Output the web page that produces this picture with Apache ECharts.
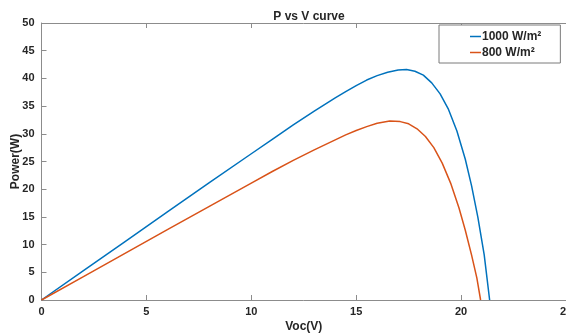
<!DOCTYPE html>
<html>
<head>
<meta charset="utf-8">
<script src="https://cdn.jsdelivr.net/npm/echarts@6/dist/echarts.min.js"></script>
<style>html,body{margin:0;padding:0;background:#fff}#c{width:566px;height:335px}</style>
</head>
<body>
<div id="c"></div>
<script>
var titleText = 'P vs V curve';
var xName = 'Voc(V)';
var yName = 'Power(W)';
var seriesNames = ['1000 W/m²', '800 W/m²'];
var xTicks = [0, 5, 10, 15, 20, 25];
var yTicks = [0, 5, 10, 15, 20, 25, 30, 35, 40, 45, 50];

var v1000 = [0, 2, 4, 6, 8, 10, 11, 12, 13, 14, 14.5, 15, 15.5, 16, 16.5, 17, 17.4, 17.8, 18.2, 18.6, 19, 19.4, 19.8, 20.2, 20.5, 20.8, 21.1, 21.36];
var p1000 = [0, 5.3, 10.6, 15.9, 21.2, 26.4, 29.0, 31.6, 34.1, 36.5, 37.6, 38.7, 39.7, 40.5, 41.1, 41.5, 41.6, 41.3, 40.6, 39.2, 37.2, 34.4, 30.5, 25.4, 20.6, 14.9, 8.2, 0];

var v800 = [0, 2, 4, 6, 8, 10, 11, 12, 13, 14, 14.5, 15, 15.5, 16, 16.6, 17.1, 17.5, 17.9, 18.3, 18.7, 19.1, 19.5, 19.9, 20.2, 20.5, 20.75, 20.93];
var p800 = [0, 4.22, 8.45, 12.7, 16.9, 21.1, 23.2, 25.2, 27.1, 28.9, 29.8, 30.6, 31.3, 31.9, 32.3, 32.2, 31.8, 30.9, 29.5, 27.5, 24.7, 21.1, 16.6, 12.6, 8.1, 4.0, 0];

function pairs(xs, ys) { return xs.map(function (x, i) { return [x, ys[i]]; }); }

var font = 'Liberation Sans, Arial, sans-serif';
var lblColor = '#262626';
var axColor = '#8c8c8c';

var chart = echarts.init(document.getElementById('c'));
chart.setOption({
  animation: false,
  backgroundColor: '#fff',
  title: {
    text: titleText, left: 304, top: 6, textAlign: 'center',
    textStyle: { fontFamily: font, fontSize: 12, fontWeight: 'bold', color: lblColor }
  },
  grid: { left: 41.5, right: 0, top: 23, bottom: 35, containLabel: false, outerBoundsMode: 'none' },
  legend: {
    left: 439, top: 25, orient: 'vertical',
    padding: [4, 19, 3, 31], itemGap: 1,
    backgroundColor: '#fff', borderColor: '#7a7a7a', borderWidth: 1,
    itemWidth: 11, itemHeight: 13,
    icon: 'path://M0,6.5L11,6.5L11,8L0,8Z',
    textStyle: { fontFamily: font, fontSize: 12, fontWeight: 'bold', color: lblColor, lineHeight: 13, padding: [2, 0, 0, -4] },
    data: seriesNames
  },
  xAxis: [{
    type: 'value', min: xTicks[0], max: xTicks[xTicks.length - 1], interval: 5,
    name: xName, nameLocation: 'middle', nameGap: 21, nameMoveOverlap: false,
    nameTextStyle: { fontFamily: font, fontSize: 12, fontWeight: 'bold', color: lblColor },
    axisLine: { lineStyle: { color: axColor, width: 1 } },
    axisTick: { inside: true, length: 5, lineStyle: { color: axColor } },
    axisLabel: { fontFamily: font, fontSize: 11, fontWeight: 'bold', color: lblColor, margin: 6, hideOverlap: false },
    splitLine: { show: false }
  }, {
    type: 'value', position: 'top', min: xTicks[0], max: xTicks[xTicks.length - 1], interval: 5,
    axisLine: { show: true, lineStyle: { color: axColor, width: 1 } },
    axisTick: { inside: true, length: 5, lineStyle: { color: axColor } },
    axisLabel: { show: false }, splitLine: { show: false }
  }],
  yAxis: [{
    type: 'value', min: yTicks[0], max: yTicks[yTicks.length - 1], interval: 5,
    name: yName, nameLocation: 'middle', nameGap: 20, nameRotate: 90, nameMoveOverlap: false,
    nameTextStyle: { fontFamily: font, fontSize: 12, fontWeight: 'bold', color: lblColor },
    axisLine: { show: true, lineStyle: { color: axColor, width: 1 } },
    axisTick: { show: true, inside: true, length: 5, lineStyle: { color: axColor } },
    axisLabel: { fontFamily: font, fontSize: 11, fontWeight: 'bold', color: lblColor, margin: 7 },
    splitLine: { show: false }
  }],
  series: [{
    name: seriesNames[0], type: 'line', showSymbol: false, smooth: false,
    lineStyle: { color: '#0072BD', width: 1.5 }, itemStyle: { color: '#0072BD' },
    data: pairs(v1000, p1000)
  }, {
    name: seriesNames[1], type: 'line', showSymbol: false, smooth: false,
    lineStyle: { color: '#D95319', width: 1.5 }, itemStyle: { color: '#D95319' },
    data: pairs(v800, p800)
  }]
});
</script>
</body>
</html>
